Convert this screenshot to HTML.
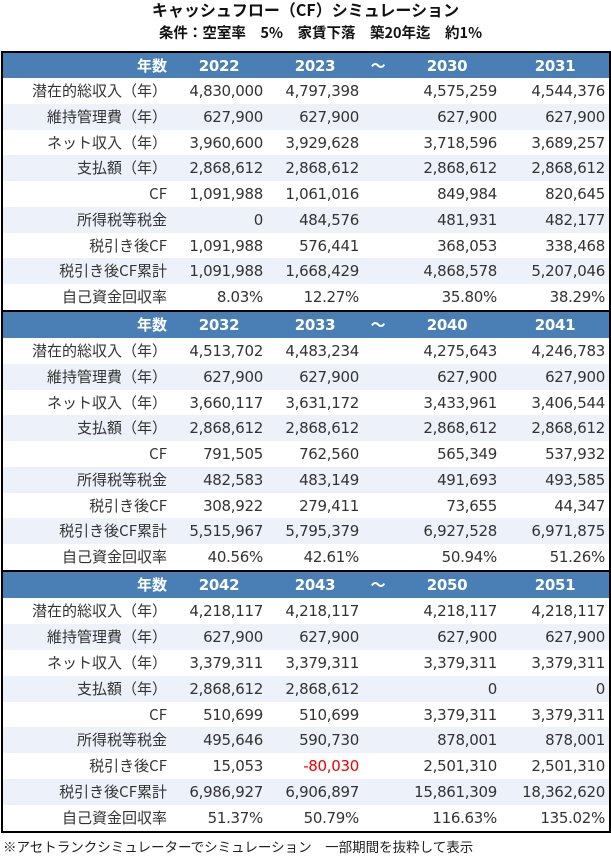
<!DOCTYPE html>
<html><head><meta charset="utf-8"><style>
body{margin:0;width:611px;height:857px;background:#fff;font-family:"Liberation Sans","Noto Sans CJK JP",sans-serif;color:#333;position:relative;overflow:hidden}
.t1{position:absolute;top:-3px;left:0;width:611px;text-align:center;font-weight:bold;font-size:16px;color:#111;font-family:"Noto Sans CJK JP",sans-serif}
.t2{position:absolute;top:22px;left:0;width:611px;text-align:center;font-weight:bold;font-size:14.5px;color:#111;font-family:"Noto Sans CJK JP",sans-serif;padding-left:30px;box-sizing:border-box}
table{position:absolute;top:51px;left:1px;width:608px;border-collapse:collapse;border:2px solid #000;table-layout:fixed}
tr{height:26px}
td{height:26px;padding:0 4px 0 0;text-align:right;font-size:15px;white-space:nowrap;line-height:20px;font-family:"DejaVu Sans","Noto Sans CJK JP",sans-serif;letter-spacing:-0.3px;overflow:hidden;box-sizing:content-box}
tr.b{height:25px}
tr.b td{height:25px}
td:first-child{font-family:"Noto Sans CJK JP",sans-serif;letter-spacing:0}
tr.h td{background:#4a7fb5;color:#fff;font-weight:bold;text-align:center;padding:0}
tr.h td:first-child{text-align:right;padding-right:4px}
tr.a td{background:#edf2fa}
tr.h.s td{border-top:2px solid #000}
.r{color:#e00}
.f{position:absolute;top:836px;left:3px;font-size:13.5px;font-family:"Noto Sans CJK JP",sans-serif;color:#222}
</style></head><body>
<div class="t1">キャッシュフロー（CF）シミュレーション</div>
<div class="t2">条件：空室率　5%　家賃下落　築20年迄　約1%</div>
<table>
<colgroup><col style="width:169px"><col style="width:96px"><col style="width:96px"><col style="width:30px"><col style="width:108px"><col style="width:109px"></colgroup>
<tr class="h b"><td>年数</td><td>2022</td><td>2023</td><td>～</td><td>2030</td><td>2031</td></tr>
<tr><td>潜在的総収入（年）</td><td>4,830,000</td><td>4,797,398</td><td></td><td>4,575,259</td><td>4,544,376</td></tr>
<tr class="a"><td>維持管理費（年）</td><td>627,900</td><td>627,900</td><td></td><td>627,900</td><td>627,900</td></tr>
<tr class="b"><td>ネット収入（年）</td><td>3,960,600</td><td>3,929,628</td><td></td><td>3,718,596</td><td>3,689,257</td></tr>
<tr class="a"><td>支払額（年）</td><td>2,868,612</td><td>2,868,612</td><td></td><td>2,868,612</td><td>2,868,612</td></tr>
<tr><td>CF</td><td>1,091,988</td><td>1,061,016</td><td></td><td>849,984</td><td>820,645</td></tr>
<tr class="a"><td>所得税等税金</td><td>0</td><td>484,576</td><td></td><td>481,931</td><td>482,177</td></tr>
<tr class="b"><td>税引き後CF</td><td>1,091,988</td><td>576,441</td><td></td><td>368,053</td><td>338,468</td></tr>
<tr class="a"><td>税引き後CF累計</td><td>1,091,988</td><td>1,668,429</td><td></td><td>4,868,578</td><td>5,207,046</td></tr>
<tr><td>自己資金回収率</td><td>8.03%</td><td>12.27%</td><td></td><td>35.80%</td><td>38.29%</td></tr>
<tr class="h s"><td>年数</td><td>2032</td><td>2033</td><td>～</td><td>2040</td><td>2041</td></tr>
<tr><td>潜在的総収入（年）</td><td>4,513,702</td><td>4,483,234</td><td></td><td>4,275,643</td><td>4,246,783</td></tr>
<tr class="a"><td>維持管理費（年）</td><td>627,900</td><td>627,900</td><td></td><td>627,900</td><td>627,900</td></tr>
<tr class="b"><td>ネット収入（年）</td><td>3,660,117</td><td>3,631,172</td><td></td><td>3,433,961</td><td>3,406,544</td></tr>
<tr class="a"><td>支払額（年）</td><td>2,868,612</td><td>2,868,612</td><td></td><td>2,868,612</td><td>2,868,612</td></tr>
<tr><td>CF</td><td>791,505</td><td>762,560</td><td></td><td>565,349</td><td>537,932</td></tr>
<tr class="a"><td>所得税等税金</td><td>482,583</td><td>483,149</td><td></td><td>491,693</td><td>493,585</td></tr>
<tr class="b"><td>税引き後CF</td><td>308,922</td><td>279,411</td><td></td><td>73,655</td><td>44,347</td></tr>
<tr class="a"><td>税引き後CF累計</td><td>5,515,967</td><td>5,795,379</td><td></td><td>6,927,528</td><td>6,971,875</td></tr>
<tr><td>自己資金回収率</td><td>40.56%</td><td>42.61%</td><td></td><td>50.94%</td><td>51.26%</td></tr>
<tr class="h s"><td>年数</td><td>2042</td><td>2043</td><td>～</td><td>2050</td><td>2051</td></tr>
<tr><td>潜在的総収入（年）</td><td>4,218,117</td><td>4,218,117</td><td></td><td>4,218,117</td><td>4,218,117</td></tr>
<tr class="a"><td>維持管理費（年）</td><td>627,900</td><td>627,900</td><td></td><td>627,900</td><td>627,900</td></tr>
<tr><td>ネット収入（年）</td><td>3,379,311</td><td>3,379,311</td><td></td><td>3,379,311</td><td>3,379,311</td></tr>
<tr class="a"><td>支払額（年）</td><td>2,868,612</td><td>2,868,612</td><td></td><td>0</td><td>0</td></tr>
<tr class="b"><td>CF</td><td>510,699</td><td>510,699</td><td></td><td>3,379,311</td><td>3,379,311</td></tr>
<tr class="a"><td>所得税等税金</td><td>495,646</td><td>590,730</td><td></td><td>878,001</td><td>878,001</td></tr>
<tr><td>税引き後CF</td><td>15,053</td><td class="r">-80,030</td><td></td><td>2,501,310</td><td>2,501,310</td></tr>
<tr class="a"><td>税引き後CF累計</td><td>6,986,927</td><td>6,906,897</td><td></td><td>15,861,309</td><td>18,362,620</td></tr>
<tr><td>自己資金回収率</td><td>51.37%</td><td>50.79%</td><td></td><td>116.63%</td><td>135.02%</td></tr>
</table>
<div class="f">※アセトランクシミュレーターでシミュレーション　一部期間を抜粋して表示</div>
</body></html>
